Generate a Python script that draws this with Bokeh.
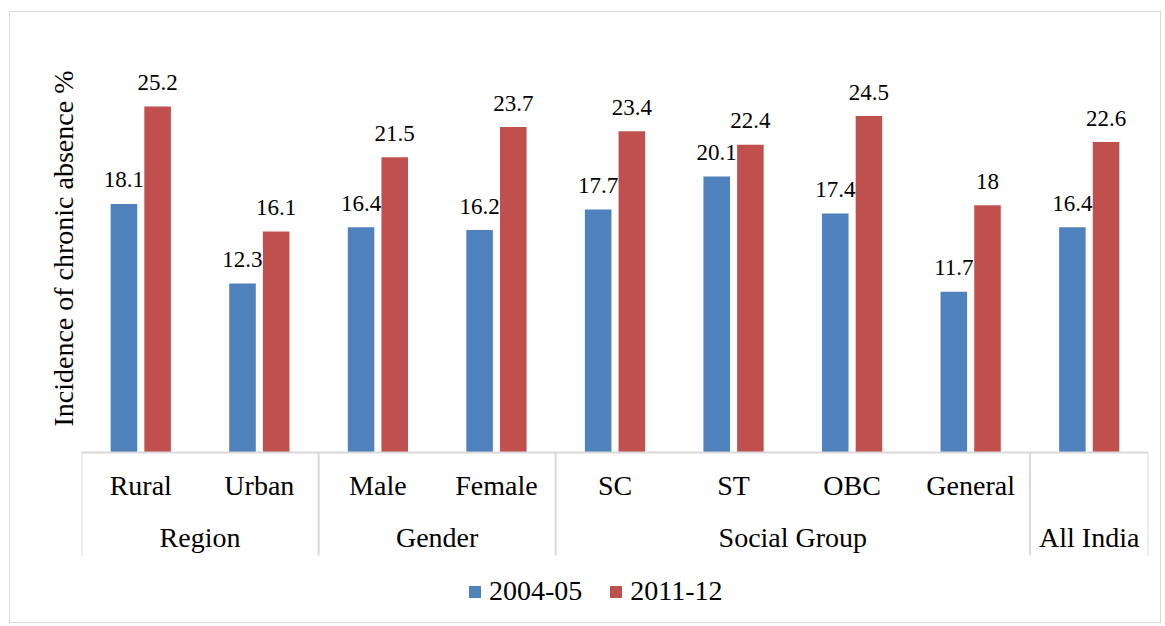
import math
from bokeh.plotting import figure
from bokeh.models import FactorRange, Range1d, ColumnDataSource, Legend, LegendItem
from bokeh.transform import dodge
from bokeh.core.properties import value
from bokeh.embed import file_html
from bokeh.resources import INLINE

# ---- data ----
groups = ["Region", "Region", "Gender", "Gender", "Social Group", "Social Group",
          "Social Group", "Social Group", "All India"]
subcats = ["Rural", "Urban", "Male", "Female", "SC", "ST", "OBC", "General", " "]
v2004 = [18.1, 12.3, 16.4, 16.2, 17.7, 20.1, 17.4, 11.7, 16.4]
v2011 = [25.2, 16.1, 21.5, 23.7, 23.4, 22.4, 24.5, 18.0, 22.6]
lab2004 = ["18.1", "12.3", "16.4", "16.2", "17.7", "20.1", "17.4", "11.7", "16.4"]
lab2011 = ["25.2", "16.1", "21.5", "23.7", "23.4", "22.4", "24.5", "18", "22.6"]
series = ["2004-05", "2011-12"]
group_names = ["Region", "Gender", "Social Group", "All India"]
group_sizes = [2, 2, 4, 1]
y_title = "Incidence of chronic absence %"

BLUE = "#4F81BD"
RED = "#C0504D"
GRID = "#D9D9D9"
FONT = "'Liberation Serif', 'Times New Roman', serif"

factors = list(zip(groups, subcats))
src = ColumnDataSource(dict(x=factors, v1=v2004, v2=v2011, l1=lab2004, l2=lab2011,
                            sub=subcats))

xr = FactorRange(*factors, factor_padding=0, group_padding=0, subgroup_padding=0,
                 range_padding=0)
Y_MIN = -11.87
p = figure(x_range=xr, y_range=Range1d(Y_MIN, 30), width=1152, height=612,
           output_backend="svg", toolbar_location=None, x_axis_location=None,
           y_axis_location=None,
           min_border_left=71, min_border_right=14, min_border_top=28,
           min_border_bottom=9)
p.styles = {"border": "1px solid #D9D9D9", "margin-left": "9px", "margin-top": "11px"}
p.outline_line_color = None
p.xgrid.visible = False
p.ygrid.visible = False
p.background_fill_color = "white"
p.border_fill_color = "white"

W = 0.224
OFF = 0.142
r1 = p.vbar(x=dodge("x", -OFF, range=xr), top="v1", bottom=0, width=W, source=src,
            fill_color=BLUE, line_color=None)
r2 = p.vbar(x=dodge("x", OFF, range=xr), top="v2", bottom=0, width=W, source=src,
            fill_color=RED, line_color=None)

for col, lab, off in (("v1", "l1", -OFF), ("v2", "l2", OFF)):
    p.text(x=dodge("x", off, range=xr), y=col, text=lab, source=src,
           text_font=value(FONT), text_font_size="23px", text_color="black",
           text_align="center", text_baseline="middle", y_offset=-24)

# category axis line and group separators
edges = [0]
for s in group_sizes:
    edges.append(edges[-1] + s)
p.segment(x0=[0], x1=[edges[-1]], y0=[0], y1=[0], line_color=GRID, line_width=2)
p.segment(x0=edges, x1=edges, y0=[0] * len(edges), y1=[-7.5] * len(edges),
          line_color=GRID, line_width=2)

p.text(x="x", y=0, text="sub", source=src, text_font=value(FONT),
       text_font_size="28px", text_color="black", text_align="center",
       text_baseline="middle", y_offset=33)
gsrc = ColumnDataSource(dict(x=group_names, t=group_names))
p.text(x="x", y=0, text="t", source=gsrc, text_font=value(FONT),
       text_font_size="28px", text_color="black", text_align="center",
       text_baseline="middle", y_offset=85)

# y-axis title (outside the frame, so drawn at annotation level)
yt = p.text(x=[0], y=[14.85], text=[y_title], text_font=value(FONT),
            text_font_size="28px", text_color="black", text_align="center",
            text_baseline="middle", angle=math.pi / 2, x_offset=-18.5)
yt.level = "annotation"

legend = Legend(items=[LegendItem(label=series[0], renderers=[r1]),
                       LegendItem(label=series[1], renderers=[r2])],
                orientation="horizontal", location=(386, 8),
                glyph_width=15, glyph_height=15, label_standoff=7, spacing=26,
                padding=0, margin=0, border_line_color=None,
                background_fill_alpha=0,
                label_text_font=FONT, label_text_font_size="28px",
                label_text_color="black")
p.add_layout(legend)

open("out.html", "w").write(file_html(p, INLINE))
